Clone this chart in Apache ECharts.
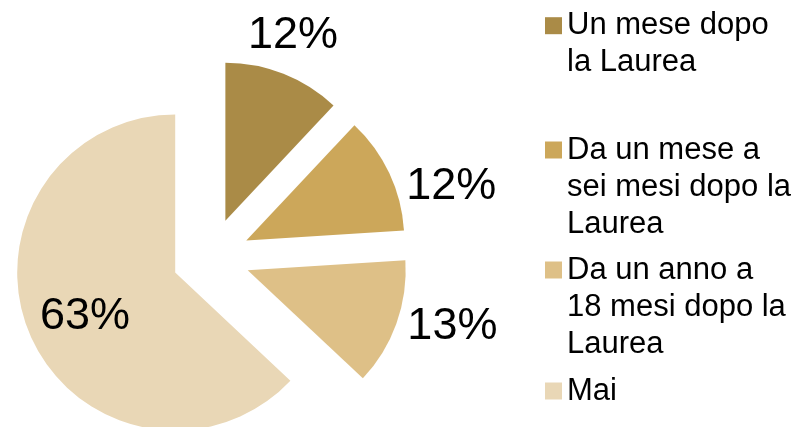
<!DOCTYPE html>
<html>
<head>
<meta charset="utf-8">
<script src="https://cdn.jsdelivr.net/npm/echarts@6/dist/echarts.min.js"></script>
<style>
  html, body { margin: 0; padding: 0; background: #ffffff; }
  #chart { width: 804px; height: 427px; }
</style>
</head>
<body>
<div id="chart"></div>
<script>
// Categories (line breaks as shown in the legend) and their shares in percent
const categories = [
  'Un mese dopo\nla Laurea',
  'Da un mese a\nsei mesi dopo la\nLaurea',
  'Da un anno a\n18 mesi dopo la\nLaurea',
  'Mai'
];
const shares = [12, 12, 13, 63];
const sliceColors = ['#AA8B47', '#CCA75A', '#DEC087', '#E9D7B6'];

const FONT = '"Liberation Sans", Arial, sans-serif';
const LINE_H = 37;
const legendIconCenters = [25.7, 150, 270, 391];

// One legend block per category. Legend text is centred on its icon, so
// empty lines are prepended to keep each icon level with the first text line.
const legends = categories.map((name, i) => {
  const lines = name.split('\n').length;
  return {
    data: [name],
    orient: 'vertical',
    left: 545,
    top: legendIconCenters[i] - (2 * lines - 1) * LINE_H / 2,
    padding: 0,
    itemWidth: 17,
    itemHeight: 17,
    icon: 'rect',
    selectedMode: false,
    formatter: (n) => '\n'.repeat(lines - 1) + n,
    textStyle: {
      fontFamily: FONT,
      fontSize: 31,
      lineHeight: LINE_H,
      color: '#000000'
    }
  };
});

// Small nudges for the percentage labels
const labelDx = [-35.5, 17, 11, -15];
const labelDy = [-38, 13, 3, 12];

const chart = echarts.init(document.getElementById('chart'), null, { renderer: 'canvas' });
chart.setOption({
  animation: false,
  backgroundColor: '#ffffff',
  legend: legends,
  series: [{
    type: 'pie',
    center: [211, 257],
    radius: 158,
    startAngle: 90,
    clockwise: true,
    selectedMode: 'multiple',
    selectedOffset: 39,
    avoidLabelOverlap: false,
    emphasis: { disabled: true },
    select: { itemStyle: { borderWidth: 0 } },
    itemStyle: { borderWidth: 0 },
    label: {
      show: true,
      position: 'outside',
      formatter: '{c}%',
      fontFamily: FONT,
      fontSize: 45,
      color: '#000000',
      distanceToLabelLine: 0
    },
    labelLine: { show: false, length: 0, length2: 0 },
    labelLayout: (params) => ({
      dx: labelDx[params.dataIndex],
      dy: labelDy[params.dataIndex]
    }),
    data: categories.map((name, i) => ({
      name: name,
      value: shares[i],
      selected: true,
      itemStyle: { color: sliceColors[i] },
      label: i === 3 ? { position: 'inside' } : undefined
    }))
  }]
});
</script>
</body>
</html>
